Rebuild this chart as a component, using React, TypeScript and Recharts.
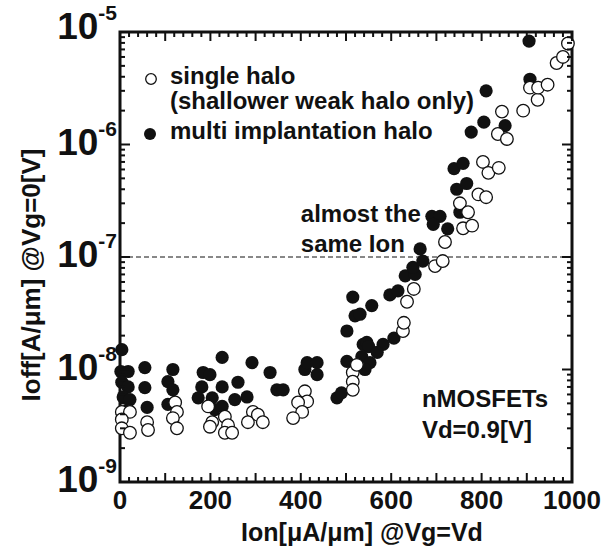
import React from 'react';
import {
  ScatterChart,
  Scatter,
  XAxis,
  YAxis,
  ReferenceLine,
  ReferenceDot,
  ReferenceArea,
  Legend,
} from 'recharts';

const FONT = '"Liberation Sans", Arial, Helvetica, sans-serif';
const INK = '#111111';

// single halo (shallower weak halo only) — open circles
const singleIon = [4, 22, 4, 4, 22, 60, 62, 122, 126, 117, 126, 195, 204, 199, 232, 239, 232, 248, 294, 283, 305, 316, 409, 414, 394, 403, 383, 515, 515, 515, 524, 626, 628, 635, 650, 697, 714, 719, 759, 779, 752, 770, 793, 810, 803, 815, 838, 836, 856, 845, 892, 924, 907, 925, 946, 966, 980, 991];
const singleIoff = [4.2e-9, 4.2e-9, 3.6e-9, 3.0e-9, 2.74e-9, 3.4e-9, 2.9e-9, 5.1e-9, 4.2e-9, 3.7e-9, 3.0e-9, 4.7e-9, 3.4e-9, 3.1e-9, 3.8e-9, 3.2e-9, 2.74e-9, 2.74e-9, 4.2e-9, 3.4e-9, 3.96e-9, 3.4e-9, 6.4e-9, 5.2e-9, 5.1e-9, 4.2e-9, 3.7e-9, 9.4e-9, 7.8e-9, 6.6e-9, 1.1e-8, 2.2e-8, 2.6e-8, 4.0e-8, 5.2e-8, 8.3e-8, 9.2e-8, 1.36e-7, 1.8e-7, 1.9e-7, 3.0e-7, 2.5e-7, 3.6e-7, 3.4e-7, 7.0e-7, 5.6e-7, 6.2e-7, 1.24e-6, 1.12e-6, 1.96e-6, 2.0e-6, 2.5e-6, 3.2e-6, 3.2e-6, 3.4e-6, 5.3e-6, 6.0e-6, 7.9e-6];

// multi implantation halo — filled circles
const multiIon = [4, 2, 18, 4, 18, 7, 22, 18, 55, 55, 60, 117, 106, 117, 106, 184, 199, 181, 173, 204, 210, 226, 226, 226, 261, 254, 281, 292, 332, 347, 361, 409, 414, 436, 436, 480, 490, 502, 502, 515, 520, 531, 557, 538, 546, 550, 582, 606, 535, 553, 542, 569, 597, 615, 631, 653, 648, 670, 664, 690, 708, 693, 725, 752, 745, 767, 739, 759, 777, 805, 810, 852, 907, 905];
const multiIoff = [1.5e-8, 9.6e-9, 9.6e-9, 7.7e-9, 7.0e-9, 5.7e-9, 5.4e-9, 4.4e-9, 1.04e-8, 6.9e-9, 4.6e-9, 1.0e-8, 7.8e-9, 6.6e-9, 4.9e-9, 9.4e-9, 9.0e-9, 7.0e-9, 5.6e-9, 5.6e-9, 4.4e-9, 1.28e-8, 7.0e-9, 4.7e-9, 7.7e-9, 5.4e-9, 5.7e-9, 1.15e-8, 9.4e-9, 6.6e-9, 6.6e-9, 1.0e-8, 1.15e-8, 1.15e-8, 9.0e-9, 5.6e-9, 6.2e-9, 1.18e-8, 2.2e-8, 4.4e-8, 3.0e-8, 3.1e-8, 3.7e-8, 1.67e-8, 1.74e-8, 1.6e-8, 1.67e-8, 1.9e-8, 1.3e-8, 1.15e-8, 1.0e-8, 1.42e-8, 4.6e-8, 5.0e-8, 6.8e-8, 7.0e-8, 8.1e-8, 9.2e-8, 1.18e-7, 2.3e-7, 2.3e-7, 1.95e-7, 1.78e-7, 2.5e-7, 4.0e-7, 4.5e-7, 6.1e-7, 6.8e-7, 1.29e-6, 1.58e-6, 3.0e-6, 1.47e-6, 3.8e-6, 8.3e-6];

// axes
const xDomain = [0, 1000];
const yDomain = [1e-9, 1e-5];
const xAllTicks = Array.from({ length: 51 }, (_, i) => i * 20); // labels every 200, major every 100
const yDecadeTicks = [1e-9, 1e-8, 1e-7, 1e-6, 1e-5];
const yMinorTicks = [-9, -8, -7, -6].flatMap((e) => [2, 3, 4, 5, 6, 7, 8, 9].map((m) => m * Math.pow(10, e)));
const yAllTicks = [...yDecadeTicks, ...yMinorTicks].sort((a, b) => a - b);

const thresholdIoff = 1e-7;

const legendItems = ['single halo', '(shallower weak halo only)', 'multi implantation halo'];
const xTitle = 'Ion[\u03bcA/\u03bcm] @Vg=Vd';
const yTitle = 'Ioff[A/\u03bcm] @Vg=0[V]';
const notes = [
  { text: 'almost the', ion: 400, ioff: 2.05e-7 },
  { text: 'same Ion', ion: 400, ioff: 1.11e-7 },
  { text: 'nMOSFETs', ion: 668, ioff: 4.68e-9 },
  { text: 'Vd=0.9[V]', ion: 668, ioff: 2.47e-9 },
];

const singleData = singleIon.map((ion, i) => ({ ion, ioff: singleIoff[i] }));
const multiData = multiIon.map((ion, i) => ({ ion, ioff: multiIoff[i] }));

// chart layout
const CHART_W = 607;
const CHART_H = 550;
const MARGIN = { top: 32, right: 35, bottom: 8, left: 10 };
const X_AXIS_H = 60;
const Y_AXIS_W = 110;
const PLOT_W = CHART_W - MARGIN.left - MARGIN.right - Y_AXIS_W;
const PLOT_H = CHART_H - MARGIN.top - MARGIN.bottom - X_AXIS_H;
const X_TICK_MARGIN = 8;
const Y_TICK_MARGIN = 3;

const OpenDot = (p: any) => (
  <circle cx={p.cx} cy={p.cy} r={6.3} fill="#ffffff" stroke={INK} strokeWidth={1.3} />
);
const FilledDot = (p: any) => <circle cx={p.cx} cy={p.cy} r={6.6} fill={INK} />;

const XTick = (p: any) => {
  const v = p.payload.value;
  const len = v % 100 === 0 ? 9 : 5;
  const yBottom = p.y - X_TICK_MARGIN;
  const yTop = yBottom - PLOT_H;
  return (
    <g>
      <line x1={p.x} y1={yBottom} x2={p.x} y2={yBottom - len} stroke={INK} strokeWidth={2} />
      <line x1={p.x} y1={yTop} x2={p.x} y2={yTop + len} stroke={INK} strokeWidth={2} />
      {v % 200 === 0 ? (
        <text
          x={p.x}
          y={p.y}
          dy="0.72em"
          textAnchor="middle"
          fill={INK}
          fontFamily={FONT}
          fontWeight="bold"
          fontSize={26}
        >
          {v}
        </text>
      ) : null}
    </g>
  );
};

const YTick = (p: any) => {
  const v = p.payload.value;
  const lg = Math.log10(v);
  const exp = Math.round(lg);
  const isDecade = Math.abs(lg - exp) < 1e-6;
  const len = isDecade ? 10 : 5;
  const xLeft = p.x + Y_TICK_MARGIN;
  const xRight = xLeft + PLOT_W;
  const lift = exp === -5 ? -6 : -3;
  return (
    <g>
      <line x1={xLeft} y1={p.y} x2={xLeft + len} y2={p.y} stroke={INK} strokeWidth={2} />
      <line x1={xRight} y1={p.y} x2={xRight - len} y2={p.y} stroke={INK} strokeWidth={2} />
      {isDecade ? (
        <text x={p.x} y={p.y + lift} textAnchor="end" fill={INK} fontFamily={FONT} fontWeight="bold">
          <tspan fontSize={37} dy={13}>10</tspan>
          <tspan fontSize={21} dy={-19}>{String(exp)}</tspan>
        </text>
      ) : null}
    </g>
  );
};

const XTitle = (p: any) => {
  const vb = p.viewBox || { x: 120, y: 482, width: 452, height: 60 };
  return (
    <text
      x={vb.x + vb.width / 2 + 16}
      y={vb.y + 59}
      textAnchor="middle"
      fill={INK}
      fontFamily={FONT}
      fontWeight="bold"
      fontSize={25}
    >
      {xTitle}
    </text>
  );
};

const YTitle = (p: any) => {
  const vb = p.viewBox || { x: 10, y: 32, width: 110, height: 450 };
  const cx = vb.x + 30;
  const cy = vb.y + vb.height / 2 + 18;
  return (
    <text
      x={cx}
      y={cy}
      transform={`rotate(-90, ${cx}, ${cy})`}
      textAnchor="middle"
      fill={INK}
      fontFamily={FONT}
      fontWeight="bold"
      fontSize={26}
    >
      {yTitle}
    </text>
  );
};

const LegendBox = () => (
  <svg width={360} height={90} style={{ display: 'block' }}>
    <circle cx={11} cy={19} r={5.3} fill="#fff" stroke={INK} strokeWidth={1.3} />
    <text x={30} y={24} fill={INK} fontFamily={FONT} fontWeight="bold" fontSize={24}>
      {legendItems[0]}
    </text>
    <text x={30} y={49} fill={INK} fontFamily={FONT} fontWeight="bold" fontSize={24}>
      {legendItems[1]}
    </text>
    <circle cx={10} cy={74} r={6} fill={INK} />
    <text x={30} y={79} fill={INK} fontFamily={FONT} fontWeight="bold" fontSize={24}>
      {legendItems[2]}
    </text>
  </svg>
);

const NoteLabel = (text: string) => (p: any) => {
  const vb = p.viewBox || { x: 0, y: 0 };
  return (
    <text x={vb.x} y={vb.y} fill={INK} fontFamily={FONT} fontWeight="bold" fontSize={24}>
      {text}
    </text>
  );
};

export default function App() {
  return (
    <div style={{ position: 'absolute', left: 0, top: 0, background: '#fff' }}>
      <ScatterChart width={CHART_W} height={CHART_H} margin={MARGIN}>
        <XAxis
          xAxisId="x"
          type="number"
          dataKey="ion"
          domain={xDomain}
          ticks={xAllTicks}
          interval={0}
          height={X_AXIS_H}
          tickLine={false}
          axisLine={false}
          tickSize={0}
          tickMargin={X_TICK_MARGIN}
          tick={<XTick />}
          label={(p: any) => <XTitle {...p} />}
        />
        <YAxis
          yAxisId="y"
          type="number"
          dataKey="ioff"
          scale="log"
          domain={yDomain}
          allowDataOverflow
          ticks={yAllTicks}
          interval={0}
          width={Y_AXIS_W}
          tickLine={false}
          axisLine={false}
          tickSize={0}
          tickMargin={Y_TICK_MARGIN}
          tick={<YTick />}
          label={(p: any) => <YTitle {...p} />}
        />

        <ReferenceArea
          xAxisId="x"
          yAxisId="y"
          x1={0}
          x2={1000}
          y1={1e-9}
          y2={1e-5}
          fill="none"
          fillOpacity={0}
          stroke={INK}
          strokeWidth={3}
          ifOverflow="visible"
        />
        <ReferenceLine
          xAxisId="x"
          yAxisId="y"
          y={thresholdIoff}
          stroke={INK}
          strokeWidth={1}
          strokeDasharray="5 3"
        />
        <Scatter
          name="multi implantation halo"
          xAxisId="x"
          yAxisId="y"
          data={multiData}
          shape={FilledDot}
          isAnimationActive={false}
        />
        <Scatter
          name="single halo"
          xAxisId="x"
          yAxisId="y"
          data={singleData}
          shape={OpenDot}
          isAnimationActive={false}
        />
        {notes.map((n) => (
          <ReferenceDot
            key={n.text}
            xAxisId="x"
            yAxisId="y"
            x={n.ion}
            y={n.ioff}
            r={0}
            fill="none"
            stroke="none"
            label={NoteLabel(n.text)}
          />
        ))}
        <Legend
          layout="vertical"
          align="center"
          verticalAlign="middle"
          wrapperStyle={{ left: 140, top: 60, width: 360, height: 90 }}
          content={() => <LegendBox />}
        />
      </ScatterChart>
    </div>
  );
}
